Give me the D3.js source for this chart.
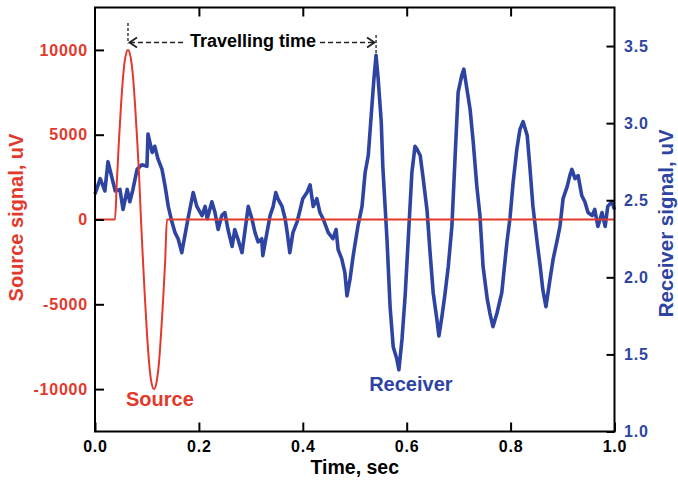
<!DOCTYPE html>
<html>
<head>
<meta charset="utf-8">
<script src="https://cdn.jsdelivr.net/npm/d3@7"></script>
<style>
  body { margin: 0; background: #fff; }
  text { font-family: "Liberation Sans", Arial, sans-serif; font-weight: bold; }
</style>
</head>
<body>
<div class="chart"></div>
<script>
// source pulse (left axis, uV)
const sourceTime  = [0, 0.0385, 0.042, 0.046, 0.050, 0.054, 0.058, 0.0635, 0.069, 0.073, 0.077, 0.081, 0.085, 0.0885,
                     0.092, 0.096, 0.100, 0.104, 0.108, 0.1135, 0.119, 0.123, 0.127, 0.131, 0.135, 0.1385, 1.0];
const sourceValue = [0, 0, 2200, 4600, 6700, 8400, 9500, 10000, 9500, 8500, 6800, 4800, 2500, 0,
                     -2200, -4600, -6700, -8400, -9500, -10000, -9500, -8500, -6800, -4800, -2500, 0, 0];

// receiver trace (right axis, uV)
const receiverTime = [0, 0.010, 0.019, 0.025, 0.033, 0.039, 0.048, 0.054, 0.062, 0.067, 0.073, 0.081, 0.090, 0.100,
  0.102, 0.110, 0.115, 0.121, 0.129, 0.135, 0.141, 0.148, 0.154, 0.160, 0.167, 0.173, 0.179, 0.189, 0.196, 0.206,
  0.212, 0.216, 0.225, 0.231, 0.237, 0.244, 0.250, 0.256, 0.264, 0.269, 0.275, 0.283, 0.289, 0.295, 0.302, 0.308,
  0.314, 0.321, 0.323, 0.331, 0.337, 0.343, 0.348, 0.352, 0.360, 0.366, 0.370, 0.375, 0.381, 0.389, 0.395, 0.400,
  0.408, 0.414, 0.420, 0.427, 0.433, 0.439, 0.449, 0.458, 0.464, 0.468, 0.475, 0.481, 0.485, 0.491, 0.497, 0.506,
  0.514, 0.520, 0.526, 0.533, 0.537, 0.541, 0.545, 0.551, 0.554, 0.562, 0.568, 0.574, 0.581, 0.585, 0.591, 0.597,
  0.603, 0.610, 0.616, 0.620, 0.626, 0.631, 0.639, 0.645, 0.651, 0.658, 0.662, 0.668, 0.674, 0.680, 0.687, 0.693,
  0.699, 0.706, 0.710, 0.716, 0.722, 0.728, 0.735, 0.741, 0.747, 0.755, 0.760, 0.766, 0.774, 0.783, 0.793, 0.799,
  0.805, 0.812, 0.818, 0.824, 0.832, 0.837, 0.843, 0.851, 0.857, 0.862, 0.868, 0.876, 0.882, 0.889, 0.895, 0.901,
  0.909, 0.914, 0.918, 0.924, 0.930, 0.937, 0.943, 0.949, 0.957, 0.962, 0.968, 0.976, 0.982, 0.987, 0.995, 1.0];
const receiverValue = [2.54, 2.64, 2.56, 2.75, 2.64, 2.56, 2.57, 2.44, 2.57, 2.49, 2.57, 2.70, 2.73, 2.72,
  2.93, 2.81, 2.85, 2.77, 2.70, 2.59, 2.46, 2.36, 2.29, 2.25, 2.16, 2.27, 2.38, 2.55, 2.46, 2.40,
  2.46, 2.38, 2.49, 2.42, 2.31, 2.40, 2.42, 2.31, 2.20, 2.31, 2.25, 2.16, 2.31, 2.46, 2.38, 2.29,
  2.23, 2.25, 2.14, 2.29, 2.40, 2.46, 2.55, 2.51, 2.46, 2.38, 2.29, 2.16, 2.29, 2.36, 2.44, 2.51,
  2.55, 2.60, 2.46, 2.51, 2.42, 2.38, 2.29, 2.25, 2.31, 2.18, 2.12, 2.03, 1.88, 1.99, 2.14, 2.33,
  2.46, 2.68, 2.79, 3.11, 3.29, 3.44, 3.29, 3.01, 2.72, 2.25, 1.81, 1.55, 1.47, 1.40, 1.60, 1.88,
  2.25, 2.68, 2.85, 2.83, 2.79, 2.66, 2.44, 2.16, 1.90, 1.73, 1.62, 1.75, 1.90, 2.07, 2.33, 2.77,
  3.20, 3.31, 3.35, 3.22, 3.09, 2.88, 2.59, 2.40, 2.07, 1.86, 1.77, 1.68, 1.77, 1.90, 2.23, 2.39,
  2.62, 2.83, 2.96, 3.01, 2.92, 2.72, 2.46, 2.23, 2.07, 1.92, 1.81, 1.99, 2.12, 2.23, 2.33, 2.51,
  2.59, 2.66, 2.70, 2.64, 2.66, 2.53, 2.49, 2.42, 2.40, 2.44, 2.33, 2.42, 2.33, 2.46, 2.49, 2.44];

const timeTicks = [0, 0.2, 0.4, 0.6, 0.8, 1.0];
const sourceTicks = [-10000, -5000, 0, 5000, 10000];
const receiverTicks = [1.0, 1.5, 2.0, 2.5, 3.0, 3.5];
const sourcePeakTime = 0.0635;
const receiverPeakTime = 0.541;

const red = "#e3392d", blue = "#2e44a2";

const margin = {top: 7.5, right: 63.5, bottom: 48.5, left: 95};
const W = 678, H = 480;
const width = W - margin.left - margin.right,
      height = H - margin.top - margin.bottom;

const svg = d3.select(".chart").append("svg")
    .attr("width", W).attr("height", H)
  .append("g")
    .attr("transform", `translate(${margin.left},${margin.top})`);

const x = d3.scaleLinear().domain([0, 1]).range([0, width]);
const yL = d3.scaleLinear().domain([-12500, 12500]).range([height, 0]);
const yR = d3.scaleLinear().domain([1, 3.75]).range([height, 0]);

const receiver = receiverTime.map((t, i) => ({t, v: receiverValue[i]}));
const source = sourceTime.map((t, i) => ({t, v: sourceValue[i]}));

// receiver trace
svg.append("path")
    .datum(receiver)
    .attr("fill", "none")
    .attr("stroke", blue)
    .attr("stroke-width", 3.6)
    .attr("stroke-linejoin", "round")
    .attr("d", d3.line().x(d => x(d.t)).y(d => yR(d.v)));

// source pulse
svg.append("path")
    .datum(source)
    .attr("fill", "none")
    .attr("stroke", red)
    .attr("stroke-width", 2)
    .attr("d", d3.line().curve(d3.curveMonotoneX).x(d => x(d.t)).y(d => yL(d.v)));

// axes, ticks pointing inward
const tickFont = g => g.selectAll("text")
    .attr("font-size", 16).attr("letter-spacing", "0.8px");

const xAxis = svg.append("g")
    .attr("transform", `translate(0,${height})`)
    .call(d3.axisBottom(x).tickValues(timeTicks).tickFormat(d3.format(".1f")).tickSizeInner(-9).tickSizeOuter(0))
    .call(tickFont);
xAxis.selectAll("text").attr("y", 20.5).attr("dy", null).attr("fill", "#000");

svg.append("g")
    .call(d3.axisTop(x).tickValues(timeTicks.slice(1, -1)).tickFormat("").tickSizeInner(-9).tickSizeOuter(0));

const leftAxis = svg.append("g")
    .call(d3.axisLeft(yL).tickValues(sourceTicks).tickFormat(d => String(d)).tickSizeInner(-9).tickSizeOuter(0))
    .call(tickFont);
leftAxis.selectAll("text").attr("x", -7).attr("fill", red);

const rightAxis = svg.append("g")
    .attr("transform", `translate(${width},0)`)
    .call(d3.axisRight(yR).tickValues(receiverTicks).tickFormat(d3.format(".1f")).tickSizeInner(-8).tickSizeOuter(0))
    .call(tickFont);
rightAxis.selectAll("text").attr("x", 9.5).attr("fill", blue);

svg.selectAll(".domain").remove();
svg.selectAll(".tick line").attr("stroke", "#000").attr("stroke-width", 2);
svg.selectAll(".tick text").attr("font-family", null);

svg.append("rect")
    .attr("width", width).attr("height", height)
    .attr("fill", "none").attr("stroke", "#000").attr("stroke-width", 2);

// axis titles
svg.append("text")
    .attr("transform", `translate(${22.5 - margin.left},${yL(0) - 2}) rotate(-90)`)
    .attr("text-anchor", "middle").attr("font-size", 20).attr("fill", red)
    .text("Source signal, uV");

svg.append("text")
    .attr("transform", `translate(${width + 58.5},${yR(2.35)}) rotate(-90)`)
    .attr("text-anchor", "middle").attr("font-size", 20.5).attr("fill", blue)
    .text("Receiver signal, uV");

svg.append("text")
    .attr("x", x(0.5)).attr("y", height + 42)
    .attr("text-anchor", "middle").attr("font-size", 19.5).attr("fill", "#000")
    .text("Time, sec");

// series labels
svg.append("text")
    .attr("x", x(0.125)).attr("y", yL(-11000))
    .attr("text-anchor", "middle").attr("font-size", 20).attr("fill", red)
    .text("Source");

svg.append("text")
    .attr("x", x(0.608)).attr("y", yR(1.265))
    .attr("text-anchor", "middle").attr("font-size", 20).attr("fill", blue)
    .text("Receiver");

// travelling time annotation
const x0 = x(sourcePeakTime), x1 = x(receiverPeakTime);
const arrowY = 35;
const ann = svg.append("g").attr("stroke", "#222").attr("stroke-width", 1.3).attr("fill", "none");

ann.append("line").attr("x1", x0).attr("x2", x0).attr("y1", 15.5).attr("y2", 36)
    .attr("stroke-dasharray", "3,2");
ann.append("line").attr("x1", x1).attr("x2", x1).attr("y1", 27.5).attr("y2", 48)
    .attr("stroke-dasharray", "3,2");

const mid = (x0 + x1) / 2 + 1;
const label = svg.append("text")
    .attr("x", mid).attr("y", arrowY + 4)
    .attr("text-anchor", "middle").attr("font-size", 18).attr("fill", "#000")
    .text("Travelling time");

const lw = label.node().getComputedTextLength();
ann.append("line").attr("x1", x0 + 2).attr("x2", mid - lw / 2 - 4).attr("y1", arrowY).attr("y2", arrowY)
    .attr("stroke-dasharray", "5,3");
ann.append("line").attr("x1", mid + lw / 2 + 4).attr("x2", x1 - 2).attr("y1", arrowY).attr("y2", arrowY)
    .attr("stroke-dasharray", "5,3");

ann.append("path").attr("stroke-width", 1.8)
    .attr("d", `M${x0 + 9},${arrowY - 5}L${x0 + 1.5},${arrowY}L${x0 + 9},${arrowY + 5}`);
ann.append("path").attr("stroke-width", 1.8)
    .attr("d", `M${x1 - 9},${arrowY - 5}L${x1 - 1.5},${arrowY}L${x1 - 9},${arrowY + 5}`);
</script>
</body>
</html>
